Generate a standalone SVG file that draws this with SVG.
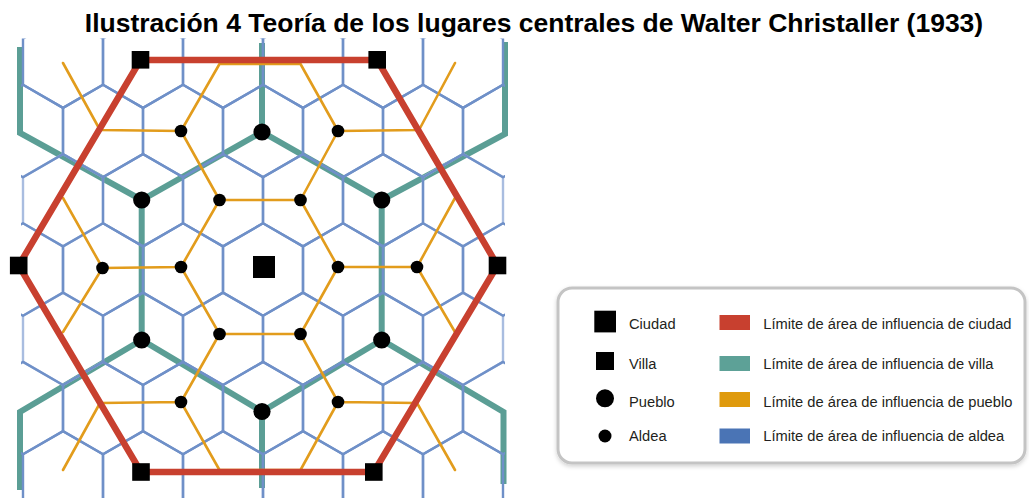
<svg xmlns="http://www.w3.org/2000/svg" xmlns:xlink="http://www.w3.org/1999/xlink" width="1029" height="498" viewBox="0 0 1029 498">
<style>
.blue{fill:none;stroke:#6f90c8;stroke-width:2.4;stroke-linejoin:round}
.faint{fill:none;stroke:#a9bde0;stroke-width:2.4;stroke-linejoin:round}
.orange{fill:none;stroke:#e29c1c;stroke-width:2.6;stroke-linecap:round;stroke-linejoin:round}
.green{fill:none;stroke:#5b9e95;stroke-width:6;stroke-linejoin:miter}
.red{fill:none;stroke:#c8402f;stroke-width:6.5;stroke-linejoin:miter}
.mk{fill:#000}
text{font-family:"Liberation Sans",Arial,sans-serif}
.title{font-weight:bold;font-size:26.5px;fill:#000}
.lg{font-size:14.7px;fill:#231f20}
</style>
<defs>
<path id="hx" d="M0,-46.19L40,-23.09L40,23.09L0,46.19L-40,23.09L-40,-23.09Z"/>
<clipPath id="cp"><rect x="21" y="38.6" width="484" height="460"/></clipPath>
<filter id="sh" x="-5%" y="-10%" width="110%" height="125%"><feDropShadow dx="0" dy="2" stdDeviation="2" flood-color="#000" flood-opacity="0.18"/></filter>
</defs>

<text class="title" x="534" y="32" text-anchor="middle">Ilustración 4 Teoría de los lugares centrales de Walter Christaller (1933)</text>

<g id="connectors">
  <g id="green-villa-boundaries" class="green">
    <polyline points="20,47 20,133 141.7,200 262,132 381.7,200 505,134 505,42"/>
    <line x1="262" y1="132" x2="262" y2="43"/>
    <line x1="141.7" y1="200" x2="141.7" y2="340"/>
    <line x1="381.7" y1="200" x2="381.7" y2="340"/>
    <polyline points="20,490 20,412 141.7,340 262,411.5 381.7,340 503.5,412 503.5,484"/>
    <line x1="262" y1="411.5" x2="262" y2="488"/>
  </g>
  <g id="blue-aldea-boundaries" clip-path="url(#cp)">
    <g class="faint">
      <use xlink:href="#hx" x="63" y="200.2"/><use xlink:href="#hx" x="463" y="200.2"/>
      <use xlink:href="#hx" x="63" y="338.8"/><use xlink:href="#hx" x="463" y="338.8"/>
    </g>
    <g class="blue">
      <use xlink:href="#hx" x="63" y="61.7"/><use xlink:href="#hx" x="143" y="61.7"/><use xlink:href="#hx" x="223" y="61.7"/><use xlink:href="#hx" x="303" y="61.7"/><use xlink:href="#hx" x="383" y="61.7"/><use xlink:href="#hx" x="463" y="61.7"/>
      <use xlink:href="#hx" x="23" y="131"/><use xlink:href="#hx" x="103" y="131"/><use xlink:href="#hx" x="183" y="131"/><use xlink:href="#hx" x="263" y="131"/><use xlink:href="#hx" x="343" y="131"/><use xlink:href="#hx" x="423" y="131"/><use xlink:href="#hx" x="503" y="131"/>
      <use xlink:href="#hx" x="143" y="200.2"/><use xlink:href="#hx" x="223" y="200.2"/><use xlink:href="#hx" x="303" y="200.2"/><use xlink:href="#hx" x="383" y="200.2"/>
      <use xlink:href="#hx" x="23" y="269.5"/><use xlink:href="#hx" x="103" y="269.5"/><use xlink:href="#hx" x="183" y="269.5"/><use xlink:href="#hx" x="263" y="269.5"/><use xlink:href="#hx" x="343" y="269.5"/><use xlink:href="#hx" x="423" y="269.5"/><use xlink:href="#hx" x="503" y="269.5"/>
      <use xlink:href="#hx" x="143" y="338.8"/><use xlink:href="#hx" x="223" y="338.8"/><use xlink:href="#hx" x="303" y="338.8"/><use xlink:href="#hx" x="383" y="338.8"/>
      <use xlink:href="#hx" x="23" y="408.1"/><use xlink:href="#hx" x="103" y="408.1"/><use xlink:href="#hx" x="183" y="408.1"/><use xlink:href="#hx" x="263" y="408.1"/><use xlink:href="#hx" x="343" y="408.1"/><use xlink:href="#hx" x="423" y="408.1"/><use xlink:href="#hx" x="503" y="408.1"/>
      <use xlink:href="#hx" x="63" y="477.3"/><use xlink:href="#hx" x="143" y="477.3"/><use xlink:href="#hx" x="223" y="477.3"/><use xlink:href="#hx" x="303" y="477.3"/><use xlink:href="#hx" x="383" y="477.3"/><use xlink:href="#hx" x="463" y="477.3"/>
    </g>
  </g>
  <g id="orange-pueblo-boundaries" class="orange">
    <path d="M63,63L100,130L181,131L219.5,64L300.5,64L338,131L419,130L455,63"/>
    <path d="M181,131L219.5,200L300.5,200L338,131"/>
    <path d="M63,198L102.5,268L63,332M102.5,268L181,267L219.5,200M300.5,200L338,267L417,267L455,198M417,267L455,332"/>
    <path d="M181,267L219.5,334L300.5,334L338,267"/>
    <path d="M219.5,334L181,402L100,403L63,470M181,402L219.5,470L300.5,470L338,402L417,403L455,470M300.5,334L338,402"/>
  </g>
  <g id="red-city-boundary">
    <polygon class="red" points="140.5,60 377.2,60 497.5,265.5 373.8,472 141,472 18.7,265.5"/>
  </g>
</g>

<g id="nodes">
  <g id="ciudad"><rect class="mk" x="253" y="256" width="22" height="22"/></g>
  <g id="villa-nw"><rect class="mk" x="131.7" y="51" width="17.6" height="17.6"/></g>
  <g id="villa-ne"><rect class="mk" x="368.4" y="51" width="17.6" height="17.6"/></g>
  <g id="villa-w"><rect class="mk" x="9.9" y="256.7" width="17.6" height="17.6"/></g>
  <g id="villa-e"><rect class="mk" x="488.7" y="256.7" width="17.6" height="17.6"/></g>
  <g id="villa-sw"><rect class="mk" x="132.2" y="463.2" width="17.6" height="17.6"/></g>
  <g id="villa-se"><rect class="mk" x="365" y="463.2" width="17.6" height="17.6"/></g>
  <g id="pueblo-n"><circle class="mk" cx="262" cy="132" r="8.6"/></g>
  <g id="pueblo-nw"><circle class="mk" cx="141.7" cy="200" r="8.6"/></g>
  <g id="pueblo-ne"><circle class="mk" cx="381.7" cy="200" r="8.6"/></g>
  <g id="pueblo-sw"><circle class="mk" cx="141.7" cy="340" r="8.6"/></g>
  <g id="pueblo-se"><circle class="mk" cx="381.7" cy="340" r="8.6"/></g>
  <g id="pueblo-s"><circle class="mk" cx="262" cy="411.5" r="8.6"/></g>
  <g id="aldea-1"><circle class="mk" cx="181" cy="131" r="6.3"/></g>
  <g id="aldea-2"><circle class="mk" cx="338" cy="131" r="6.3"/></g>
  <g id="aldea-3"><circle class="mk" cx="219.5" cy="200" r="6.3"/></g>
  <g id="aldea-4"><circle class="mk" cx="300.5" cy="200" r="6.3"/></g>
  <g id="aldea-5"><circle class="mk" cx="102.5" cy="268" r="6.3"/></g>
  <g id="aldea-6"><circle class="mk" cx="181" cy="267" r="6.3"/></g>
  <g id="aldea-7"><circle class="mk" cx="338" cy="267" r="6.3"/></g>
  <g id="aldea-8"><circle class="mk" cx="417" cy="267" r="6.3"/></g>
  <g id="aldea-9"><circle class="mk" cx="219.5" cy="334" r="6.3"/></g>
  <g id="aldea-10"><circle class="mk" cx="300.5" cy="334" r="6.3"/></g>
  <g id="aldea-11"><circle class="mk" cx="181" cy="402" r="6.3"/></g>
  <g id="aldea-12"><circle class="mk" cx="338" cy="402" r="6.3"/></g>
</g>

<g id="legend">
  <rect x="558" y="288" width="467" height="175" rx="14" fill="#fff" stroke="#c4c4c4" stroke-width="3" filter="url(#sh)"/>
  <rect class="mk" x="594.3" y="310.7" width="21.7" height="21.7"/>
  <rect class="mk" x="596" y="352" width="18" height="18"/>
  <circle class="mk" cx="605" cy="398.3" r="9"/>
  <circle class="mk" cx="605" cy="436" r="6.5"/>
  <text class="lg" x="629" y="328.5">Ciudad</text>
  <text class="lg" x="629" y="368.5">Villa</text>
  <text class="lg" x="629" y="406.5">Pueblo</text>
  <text class="lg" x="629" y="441">Aldea</text>
  <rect x="719.5" y="315" width="30.5" height="15" fill="#c8402f"/>
  <rect x="719.5" y="356" width="30.5" height="15" fill="#5da197"/>
  <rect x="719.5" y="392" width="30.5" height="15" fill="#df9a0d"/>
  <rect x="719.5" y="428.5" width="30.5" height="15" fill="#4a74b5"/>
  <text class="lg" x="763.3" y="328.5">Límite de área de influencia de ciudad</text>
  <text class="lg" x="763.3" y="368.5">Límite de área de influencia de villa</text>
  <text class="lg" x="763.3" y="406.5">Límite de área de influencia de pueblo</text>
  <text class="lg" x="763.3" y="441">Límite de área de influencia de aldea</text>
</g>
</svg>
